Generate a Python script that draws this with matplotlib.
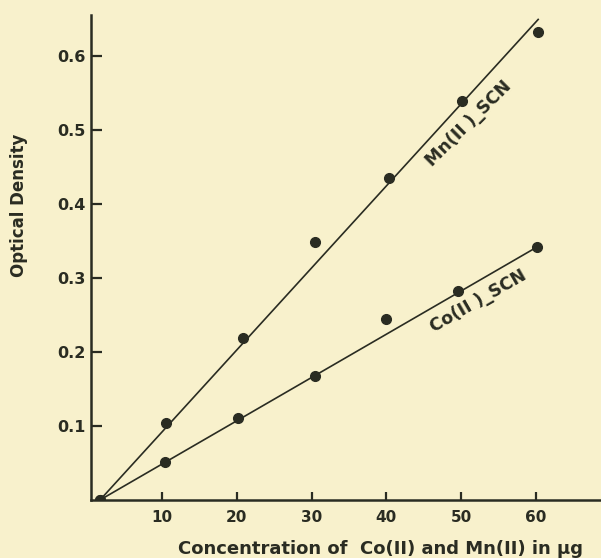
import matplotlib
matplotlib.use("Agg")
import matplotlib.pyplot as plt

# data
conc_mn = [1.7, 10.5, 20.8, 30.5, 40.4, 50.1, 60.3]
od_mn = [0.0, 0.104, 0.219, 0.349, 0.435, 0.539, 0.632]
conc_co = [1.7, 10.4, 20.1, 30.5, 39.9, 49.6, 60.2]
od_co = [0.0, 0.051, 0.111, 0.167, 0.245, 0.282, 0.342]

# straight lines drawn through the points
fit_x_mn = [1.7, 60.3]
fit_y_mn = [0.0, 0.649]
fit_x_co = [1.7, 60.2]
fit_y_co = [0.0, 0.342]

xticks = [10, 20, 30, 40, 50, 60]
yticks = [0.1, 0.2, 0.3, 0.4, 0.5, 0.6]
ytick_labels = ["0.1", "0.2", "0.3", "0.4", "0.5", "0.6"]

paper = "#f8f1cc"
ink = "#2a2c22"

fig = plt.figure(figsize=(6.01, 5.58), dpi=100, facecolor=paper)
ax = fig.add_axes([91 / 601, 1 - 500 / 558, 510 / 601, 485 / 558])
ax.set_facecolor(paper)

ax.plot(fit_x_mn, fit_y_mn, color=ink, lw=1.2)
ax.plot(fit_x_co, fit_y_co, color=ink, lw=1.2)
ax.plot(conc_mn, od_mn, "o", color=ink, ms=7, mec=ink)
ax.plot(conc_co, od_co, "o", color=ink, ms=7, mec=ink)

ax.set_xlim(0.5, 68.7)
ax.set_ylim(0, 0.655)
for s in ["top", "right"]:
    ax.spines[s].set_visible(False)
for s in ["left", "bottom"]:
    ax.spines[s].set_color(ink)
    ax.spines[s].set_linewidth(1.8)

ax.set_xticks(xticks)
ax.set_xticklabels([str(t) for t in xticks])
ax.set_yticks(yticks)
ax.set_yticklabels(ytick_labels)
ax.tick_params(axis="x", direction="in", length=6, width=1.6, color=ink,
               labelsize=11, labelcolor=ink, pad=7)
ax.tick_params(axis="y", direction="in", length=8, width=1.6, color=ink,
               labelsize=11.5, labelcolor=ink, pad=4)
for lab in ax.get_xticklabels() + ax.get_yticklabels():
    lab.set_fontweight("bold")

ax.text(51.0, 0.508, "Mn(II )_SCN", rotation=45, ha="center", va="center",
        fontsize=12.5, fontweight="bold", color=ink)
ax.text(52.3, 0.269, "Co(II )_SCN", rotation=30, ha="center", va="center",
        fontsize=12.5, fontweight="bold", color=ink)

fig.text(19 / 601, 1 - 205 / 558, "Optical Density", rotation=90,
         ha="center", va="center", fontsize=12, fontweight="bold", color=ink)
fig.text(380 / 601, 1 - 549 / 558, "Concentration of  Co(II) and Mn(II) in \u03bcg",
         ha="center", va="center", fontsize=13, fontweight="bold", color=ink)

fig.savefig("out.png", dpi=100, facecolor=paper)
